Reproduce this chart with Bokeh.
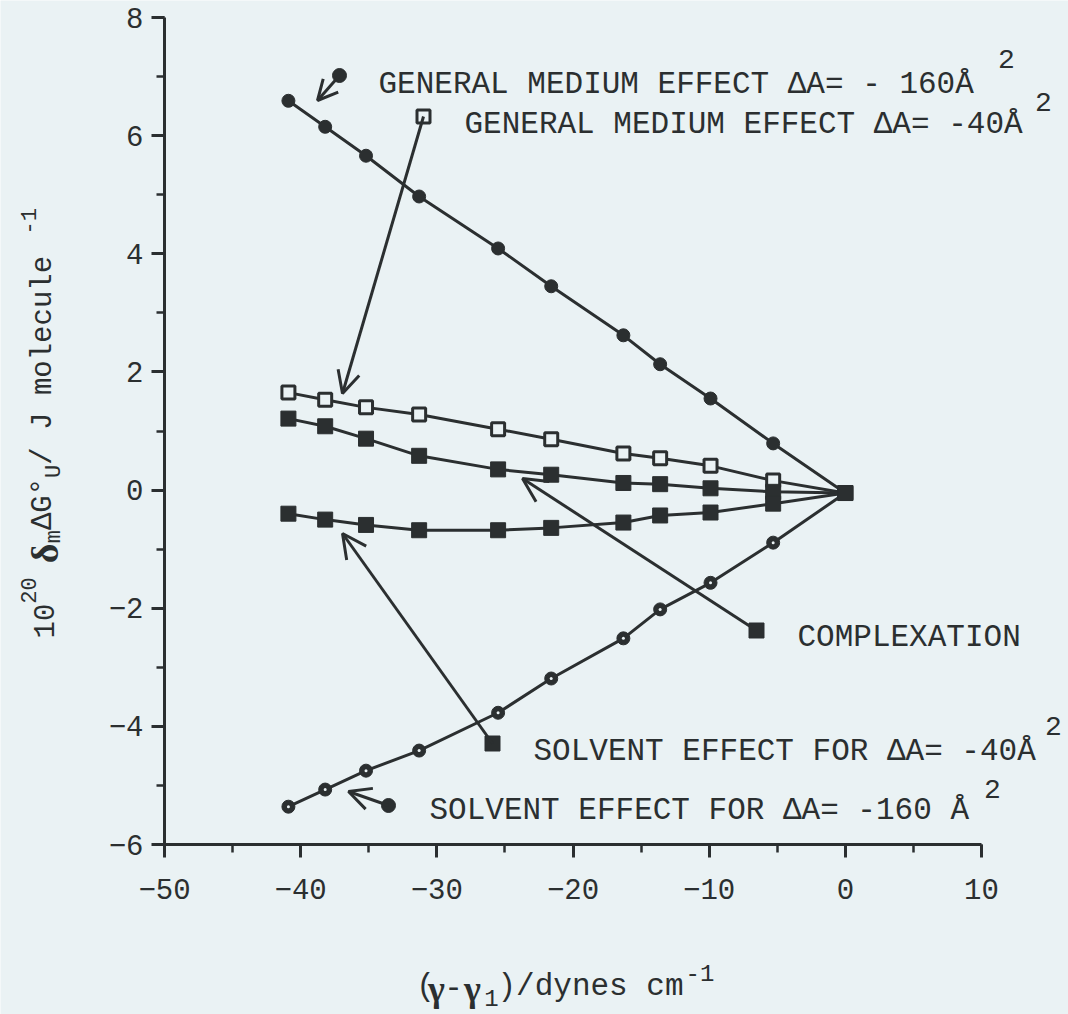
import math
from bokeh.plotting import figure
from bokeh.models import Range1d, SingleIntervalTicker, Label, Arrow, OpenHead, LinearAxis
from bokeh.embed import file_html
from bokeh.resources import INLINE

# ---------------- data ----------------
gamma_diff = [-40.9, -38.2, -35.2, -31.3, -25.5, -21.6, -16.3, -13.6, -9.9, -5.3, 0.0]
general_160 = [6.59, 6.15, 5.66, 4.97, 4.09, 3.45, 2.62, 2.13, 1.55, 0.79, -0.05]
general_40 = [1.65, 1.53, 1.40, 1.28, 1.03, 0.86, 0.62, 0.54, 0.41, 0.16, -0.05]
complexation = [1.21, 1.08, 0.87, 0.58, 0.35, 0.26, 0.12, 0.10, 0.03, -0.03, -0.05]
solvent_40 = [-0.40, -0.50, -0.59, -0.68, -0.68, -0.64, -0.55, -0.43, -0.38, -0.23, -0.05]
solvent_160 = [-5.36, -5.07, -4.75, -4.41, -3.77, -3.19, -2.51, -2.02, -1.57, -0.89, -0.05]

x_axis_bounds = (-50, 10)
y_axis_bounds = (-6, 8)
x_ticks_interval = 10
y_ticks_interval = 2

INK = "#2b2f30"
BG = "#eaf2f4"
MONO = "Liberation Mono"
SERIF = "Liberation Serif"

# page geometry: the plotting area (-50..10, -6..8) sits at these pixels
W, H = 1068, 1014
AX_L, AX_R, AX_T, AX_B = 164, 981, 17, 844
sx = (x_axis_bounds[1] - x_axis_bounds[0]) / (AX_R - AX_L)
sy = (y_axis_bounds[1] - y_axis_bounds[0]) / (AX_B - AX_T)
XL = x_axis_bounds[0] - AX_L * sx
XR = x_axis_bounds[1] + (W - AX_R) * sx
YT = y_axis_bounds[1] + AX_T * sy
YB = y_axis_bounds[0] - (H - AX_B) * sy


def px2x(px):
    return XL + px * sx


def px2y(py):
    return YT - py * sy


p = figure(width=W, height=H, x_range=Range1d(XL, XR), y_range=Range1d(YB, YT),
           output_backend="svg", toolbar_location=None,
           x_axis_type=None, y_axis_type=None,
           min_border=0, min_border_left=0, min_border_right=0,
           min_border_top=0, min_border_bottom=0)
p.background_fill_color = BG
p.border_fill_color = BG
p.outline_line_color = None

xaxis = LinearAxis(fixed_location=y_axis_bounds[0], bounds=x_axis_bounds,
                   ticker=SingleIntervalTicker(interval=x_ticks_interval, num_minor_ticks=2))
yaxis = LinearAxis(fixed_location=x_axis_bounds[0], bounds=y_axis_bounds,
                   ticker=SingleIntervalTicker(interval=y_ticks_interval, num_minor_ticks=2))
for ax in (xaxis, yaxis):
    ax.axis_line_color = INK
    ax.axis_line_width = 3
    ax.major_tick_line_color = INK
    ax.major_tick_line_width = 3
    ax.minor_tick_line_color = INK
    ax.minor_tick_line_width = 2.5
    ax.major_tick_in = 0
    ax.minor_tick_in = 0
    ax.major_tick_out = 13
    ax.minor_tick_out = 8
    ax.major_label_text_font = MONO
    ax.major_label_text_font_size = "29px"
    ax.major_label_text_color = INK
xaxis.major_label_standoff = 21
yaxis.major_label_standoff = 8
p.add_layout(xaxis, "below")
p.add_layout(yaxis, "left")

# ---------------- series ----------------
LW = 3
for ys in (general_160, general_40, complexation, solvent_40, solvent_160):
    p.line(gamma_diff, ys, line_color=INK, line_width=LW)

p.scatter(gamma_diff, general_160, marker="circle", size=13, fill_color=INK, line_color=INK)
p.scatter(gamma_diff, solvent_160, marker="circle", size=13, fill_color=INK, line_color=INK)
p.scatter(gamma_diff, solvent_160, marker="circle", size=3, fill_color=BG, line_color=None)
p.scatter(gamma_diff, general_40, marker="square", size=13, fill_color=BG, line_color=INK, line_width=3)
p.scatter(gamma_diff, complexation, marker="square", size=15, fill_color=INK, line_color=INK)
p.scatter(gamma_diff, solvent_40, marker="square", size=15, fill_color=INK, line_color=INK)

# ---------------- annotations (key markers, arrows, texts) ----------------
arrows = [
    ((339, 75), (317, 100), "circle", 20),
    ((423, 116), (342, 393), "open", 22),
    ((756, 630), (522, 478), "square", 24),
    ((492, 743), (342, 533), "square", 24),
    ((388, 805), (348, 791), "circle", 22),
]
for (ax_, ay_), (tx, ty), kind, hs in arrows:
    p.add_layout(Arrow(end=OpenHead(size=hs, line_color=INK, line_width=3),
                       x_start=px2x(ax_), y_start=px2y(ay_), x_end=px2x(tx), y_end=px2y(ty),
                       line_color=INK, line_width=3))
    if kind == "circle":
        p.scatter([px2x(ax_)], [px2y(ay_)], marker="circle", size=14, fill_color=INK, line_color=INK)
    elif kind == "open":
        p.scatter([px2x(ax_)], [px2y(ay_)], marker="square", size=13, fill_color=BG, line_color=INK, line_width=3)
    else:
        p.scatter([px2x(ax_)], [px2y(ay_)], marker="square", size=15, fill_color=INK, line_color=INK)


def label(text, px, py, size, font=MONO, align="left", baseline="middle", angle=0.0, style="normal"):
    p.add_layout(Label(x=px2x(px), y=px2y(py), text=text, text_font=font,
                       text_font_size=f"{size}px", text_color=INK, text_align=align,
                       text_baseline=baseline, angle=angle, text_font_style=style))


label("GENERAL MEDIUM EFFECT \u0394A= - 160\u00c5", 378, 84, 31)
label("2", 1006, 58, 28, align="center")
label("GENERAL MEDIUM EFFECT \u0394A= -40\u00c5", 464, 124, 31)
label("2", 1043, 101, 28, align="center")
label("COMPLEXATION", 797, 637, 31)
label("SOLVENT EFFECT FOR \u0394A= -40\u00c5", 533, 751, 31)
label("2", 1053, 725, 28, align="center")
label("SOLVENT EFFECT FOR \u0394A= -160 \u00c5", 429, 810, 31)
label("2", 992, 788, 28, align="center")

# x axis title: (γ-γ1)/dynes cm-1
XC = 986
label("(", 425, XC, 31, align="center")
label("\u03b3", 436, XC + 2, 36, font=SERIF, align="center", style="bold")
label("-", 453, XC, 31, align="center")
label("\u03b3", 472, XC + 2, 36, font=SERIF, align="center", style="bold")
label("1", 491, XC + 11, 24, align="center")
label(")/dynes cm", 497, XC, 31)
label("-1", 685, XC - 14, 24)

# y axis title (rotated): 10^20 δ_m ΔG°_U / J molecule^-1
A = math.pi / 2
CX = 43
FS = 29
CW = 0.6 * FS
SS = 22
SW = 0.6 * SS
yb = 638
label("10", CX, yb, FS, angle=A)
yb -= 2 * CW
label("20", CX - 15, yb, SS, angle=A)
yb -= 2 * SW + 14
label("\u03b4", CX + 1, yb, 38, font=SERIF, angle=A, style="bold")
yb -= 20
label("m", CX + 11, yb, SS, angle=A)
yb -= SW
label("\u0394G\u00b0", CX, yb, FS, angle=A)
yb -= 3 * CW
label("U", CX + 11, yb, SS, angle=A)
yb -= SW
label(" / J molecule", CX, yb, FS, angle=A)
yb -= 13 * CW + 4
label("-1", CX - 15, yb, SS, angle=A)

open("out.html", "w").write(file_html(p, INLINE))
